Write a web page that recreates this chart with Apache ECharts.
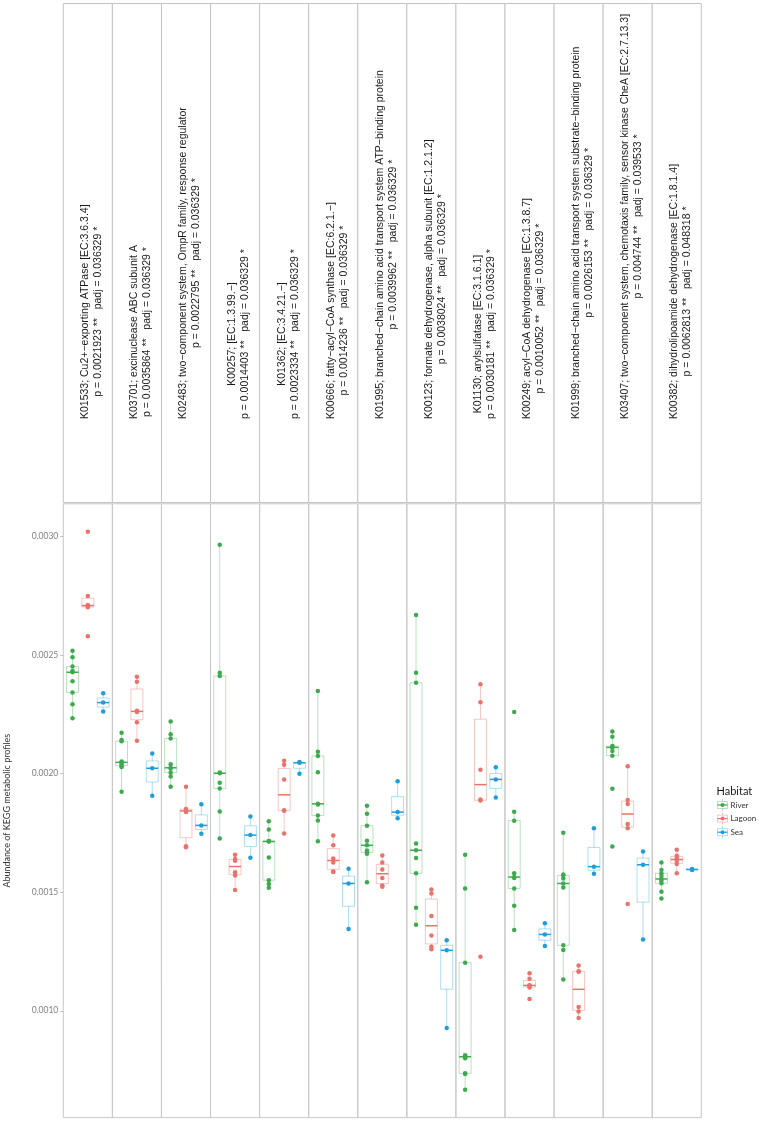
<!DOCTYPE html>
<html><head><meta charset="utf-8">
<script src="https://cdn.jsdelivr.net/npm/echarts@6/dist/echarts.min.js"></script>
<style>html,body{margin:0;padding:0;background:#fff}#c{width:759px;height:1125px}</style>
</head><body><div id="c"></div>
<script>
// ---------------- data ----------------
const keggIds = ['K01533','K03701','K02483','K00257','K01362','K00666','K01995','K00123','K01130','K00249','K01999','K03407','K00382'];
const keggNames = [
  'Cu2+\u2212exporting ATPase [EC:3.6.3.4]',
  'excinuclease ABC subunit A',
  'two\u2212component system, OmpR family, response regulator',
  '[EC:1.3.99.\u2212]',
  '[EC:3.4.21.\u2212]',
  'fatty\u2212acyl\u2212CoA synthase [EC:6.2.1.\u2212]',
  'branched\u2212chain amino acid transport system ATP\u2212binding protein',
  'formate dehydrogenase, alpha subunit [EC:1.2.1.2]',
  'arylsulfatase [EC:3.1.6.1]',
  'acyl\u2212CoA dehydrogenase [EC:1.3.8.7]',
  'branched\u2212chain amino acid transport system substrate\u2212binding protein',
  'two\u2212component system, chemotaxis family, sensor kinase CheA [EC:2.7.13.3]',
  'dihydrolipoamide dehydrogenase [EC:1.8.1.4]'
];
const pValues = ['0.0021923','0.0035864','0.0022795','0.0014403','0.0023334','0.0014236','0.0039962','0.0038024','0.0030181','0.0010052','0.0026153','0.004744','0.0062813'];
const padjValues = ['0.036329','0.036329','0.036329','0.036329','0.036329','0.036329','0.036329','0.036329','0.036329','0.036329','0.036329','0.039533','0.048318'];
const habitats = ['River','Lagoon','Sea'];
const riverValues = [
  [0.002519,0.002491,0.002452,0.002433,0.002428,0.002390,0.002343,0.002293,0.002234],
  [0.002173,0.002142,0.002137,0.002052,0.002048,0.002041,0.002034,0.002028,0.001924],
  [0.002220,0.002166,0.002149,0.002040,0.002025,0.002021,0.002004,0.001988,0.001945],
  [0.002966,0.002426,0.002412,0.002005,0.002002,0.001962,0.001938,0.001841,0.001727],
  [0.001800,0.001765,0.001716,0.001715,0.001714,0.001647,0.001551,0.001535,0.001519],
  [0.002349,0.002093,0.002075,0.002006,0.001873,0.001870,0.001824,0.001803,0.001715],
  [0.001865,0.001831,0.001781,0.001717,0.001698,0.001676,0.001668,0.001662,0.001542],
  [0.002670,0.002426,0.002384,0.001706,0.001677,0.001644,0.001580,0.001435,0.001363],
  [0.001658,0.001516,0.001203,0.000812,0.000806,0.000800,0.000736,0.000733,0.000667],
  [0.002260,0.001840,0.001802,0.001580,0.001564,0.001560,0.001516,0.001443,0.001341],
  [0.001751,0.001575,0.001571,0.001558,0.001537,0.001520,0.001276,0.001256,0.001132],
  [0.002178,0.002156,0.002117,0.002113,0.002111,0.002096,0.002076,0.001937,0.001693],
  [0.001626,0.001594,0.001580,0.001568,0.001556,0.001548,0.001538,0.001502,0.001474]
];
const lagoonValues = [
  [0.003021,0.002750,0.002712,0.002707,0.002702,0.002580],
  [0.002409,0.002388,0.002266,0.002260,0.002217,0.002139],
  [0.001945,0.001851,0.001848,0.001838,0.001694,0.001690],
  [0.001658,0.001640,0.001633,0.001584,0.001571,0.001509],
  [0.002055,0.002038,0.001976,0.001846,0.001844,0.001748],
  [0.001739,0.001698,0.001642,0.001626,0.001587,0.001585],
  [0.001655,0.001625,0.001596,0.001560,0.001528,0.001523],
  [0.001512,0.001495,0.001400,0.001317,0.001270,0.001259],
  [0.002377,0.002301,0.002017,0.001891,0.001887,0.001228],
  [0.001158,0.001135,0.001108,0.001106,0.001098,0.001050],
  [0.001191,0.001167,0.001165,0.001016,0.000997,0.000970],
  [0.002032,0.001889,0.001872,0.001788,0.001770,0.001450],
  [0.001679,0.001654,0.001643,0.001633,0.001619,0.001580]
];
const seaValues = [
  [0.002339,0.002300,0.002262],
  [0.002085,0.002023,0.001907],
  [0.001871,0.001782,0.001747],
  [0.001820,0.001741,0.001646],
  [0.002049,0.002046,0.002000],
  [0.001599,0.001537,0.001345],
  [0.001968,0.001838,0.001812],
  [0.001298,0.001255,0.000927],
  [0.002027,0.001976,0.001900],
  [0.001369,0.001322,0.001273],
  [0.001770,0.001608,0.001578],
  [0.001672,0.001616,0.001301],
  [0.001598,0.001596,0.001594]
];
const yTickValues = [0.0010,0.0015,0.0020,0.0025,0.0030];
const yMinorValues = [0.00075,0.00125,0.00175,0.00225,0.00275];
const yTitle = 'Abundance of KEGG metabolic profiles';
const legendTitle = 'Habitat';

// ---------------- style / layout ----------------
const COLORS = ['#3DAA4D','#E8736B','#1F9DD8'];
const LIGHT = ['rgba(61,170,77,0.35)','rgba(232,115,107,0.4)','rgba(31,157,216,0.35)'];
const PANEL_L = 63.3, PANEL_R = 701.3, PANEL_T = 503.8, PANEL_B = 1117.6;
const STRIP_T = 3.5, STRIP_B = 502.5, STRIP_TEXT_BOTTOM = 419;
const BOX_W = 0.78;
const STRIP_FONT = '10.5px "Liberation Sans", Arial, sans-serif';
const AXIS_FONT = 'Lato';

const groups = [riverValues, lagoonValues, seaValues];
const nP = keggIds.length;
const pw = (PANEL_R - PANEL_L) / nP;

const allVals = [].concat(...riverValues, ...lagoonValues, ...seaValues);
const dMin = Math.min(...allVals), dMax = Math.max(...allVals);
const yMin = dMin - (dMax - dMin) * 0.05, yMax = dMax + (dMax - dMin) * 0.05;

function quant(s, p) { const h = (s.length - 1) * p, lo = Math.floor(h), hi = Math.ceil(h); return s[lo] + (h - lo) * (s[hi] - s[lo]); }
function boxStats(vals) {
  const s = vals.slice().sort((a, b) => a - b);
  const q1 = quant(s, 0.25), md = quant(s, 0.5), q3 = quant(s, 0.75), iqr = q3 - q1;
  const inside = s.filter(v => v >= q1 - 1.5 * iqr - 1e-12 && v <= q3 + 1.5 * iqr + 1e-12);
  return [Math.min(...inside), q1, md, q3, Math.max(...inside)];
}

function renderBox(params, api) {
  const x = api.value(0), k = api.value(6);
  const lw = api.coord([x, api.value(1)]);
  const a = api.coord([x - BOX_W / 2, api.value(2)]);
  const md = api.coord([x, api.value(3)]);
  const b = api.coord([x + BOX_W / 2, api.value(4)]);
  const uw = api.coord([x, api.value(5)]);
  const left = a[0], right = b[0], top = b[1], bottom = a[1];
  return { type: 'group', children: [
    { type: 'line', shape: { x1: md[0], y1: top, x2: md[0], y2: uw[1] }, style: { stroke: LIGHT[k], lineWidth: 1 } },
    { type: 'line', shape: { x1: md[0], y1: bottom, x2: md[0], y2: lw[1] }, style: { stroke: LIGHT[k], lineWidth: 1 } },
    { type: 'rect', shape: { x: left, y: top, width: right - left, height: bottom - top }, style: { fill: 'transparent', stroke: LIGHT[k], lineWidth: 1 } },
    { type: 'line', shape: { x1: left, y1: md[1], x2: right, y2: md[1] }, style: { stroke: COLORS[k], lineWidth: 1.5 } }
  ]};
}

const grids = [], xAxes = [], yAxes = [], series = [];
for (let i = 0; i < nP; i++) {
  grids.push({ left: PANEL_L + i * pw, top: PANEL_T, width: pw, height: PANEL_B - PANEL_T, show: true, borderColor: '#C8C8C8', borderWidth: 1, backgroundColor: 'transparent' });
  xAxes.push({ gridIndex: i, type: 'value', min: 0.4, max: 3.6, show: false });
  yAxes.push({ gridIndex: i, type: 'value', min: yMin, max: yMax, show: i === 0,
    axisLine: { show: false }, splitLine: { show: false },
    axisTick: { show: i === 0, length: 3, lineStyle: { color: '#BDBDBD' }, customValues: yTickValues },
    axisLabel: { show: i === 0, customValues: yTickValues, formatter: v => v.toFixed(4), color: '#808080', fontSize: 8.5, fontFamily: AXIS_FONT, margin: 5 } });
  series.push({ type: 'scatter', xAxisIndex: i, yAxisIndex: i, data: [], silent: true, z: 0,
    markLine: { silent: true, symbol: ['none', 'none'], animation: false, label: { show: false },
      lineStyle: { type: 'solid', width: 1, color: '#F7F7F7' },
      data: yMinorValues.map(v => ({ yAxis: v })).concat(yTickValues.map(v => ({ yAxis: v, lineStyle: { color: '#EFEFEF', type: 'solid', width: 1 } }))) } });
  const boxData = groups.map((g, k) => [k + 1].concat(boxStats(g[i])).concat([k]));
  series.push({ type: 'custom', xAxisIndex: i, yAxisIndex: i, data: boxData, renderItem: renderBox, silent: true, z: 2, encode: { x: 0, y: [1, 5] } });
  groups.forEach((g, k) => series.push({ type: 'scatter', name: habitats[k], xAxisIndex: i, yAxisIndex: i,
    data: g[i].map(v => [k + 1, v]), symbolSize: 4.5, itemStyle: { color: COLORS[k], opacity: 1 }, silent: true, z: 3 }));
}

// strips
const mctx = document.createElement('canvas').getContext('2d');
mctx.font = STRIP_FONT;
const graphics = [];
for (let i = 0; i < nP; i++) {
  const left = PANEL_L + i * pw, cx = left + pw / 2;
  graphics.push({ type: 'rect', shape: { x: left, y: STRIP_T, width: pw, height: STRIP_B - STRIP_T }, style: { fill: '#fff', stroke: '#C4C4C4', lineWidth: 1 }, silent: true });
  const l1 = keggIds[i] + '; ' + keggNames[i];
  const l2 = 'p = ' + pValues[i] + ' **   padj = ' + padjValues[i] + ' *';
  const w = Math.max(mctx.measureText(l1).width, mctx.measureText(l2).width);
  const cy = STRIP_TEXT_BOTTOM - w / 2;
  [[l1, cx - 2.5], [l2, cx + 10.5]].forEach(([t, x]) => graphics.push({ type: 'text', x: x, y: cy, rotation: Math.PI / 2, silent: true,
    style: { text: t, font: STRIP_FONT, fill: '#1A1A1A', align: 'center', verticalAlign: 'middle' } }));
}
// y title
graphics.push({ type: 'text', x: 7, y: (PANEL_T + PANEL_B) / 2, rotation: Math.PI / 2, silent: true,
  style: { text: yTitle, font: '9px ' + AXIS_FONT, fill: '#333', align: 'center', verticalAlign: 'middle' } });
// legend
graphics.push({ type: 'text', x: 716.5, y: 791, silent: true, style: { text: legendTitle, font: '11px ' + AXIS_FONT, fill: '#1A1A1A', align: 'left', verticalAlign: 'middle' } });
habitats.forEach((h, k) => {
  const cy = 805 + k * 13.6, kx = 717.5, kw = 10;
  graphics.push({ type: 'rect', shape: { x: kx, y: cy - 3.5, width: kw, height: 7 }, style: { fill: '#fff', stroke: LIGHT[k], lineWidth: 1 }, silent: true });
  graphics.push({ type: 'line', shape: { x1: kx + kw / 2, y1: cy - 6, x2: kx + kw / 2, y2: cy - 3.5 }, style: { stroke: LIGHT[k], lineWidth: 1 }, silent: true });
  graphics.push({ type: 'line', shape: { x1: kx + kw / 2, y1: cy + 3.5, x2: kx + kw / 2, y2: cy + 6 }, style: { stroke: LIGHT[k], lineWidth: 1 }, silent: true });
  graphics.push({ type: 'line', shape: { x1: kx, y1: cy, x2: kx + kw, y2: cy }, style: { stroke: COLORS[k], lineWidth: 1.2 }, silent: true });
  graphics.push({ type: 'circle', shape: { cx: kx + kw / 2, cy: cy, r: 2 }, style: { fill: COLORS[k] }, silent: true });
  graphics.push({ type: 'text', x: 730.5, y: cy, silent: true, style: { text: h, font: '8px ' + AXIS_FONT, fill: '#333', align: 'left', verticalAlign: 'middle' } });
});

const chart = echarts.init(document.getElementById('c'), null, { renderer: 'canvas', width: 759, height: 1125 });
chart.setOption({ animation: false, backgroundColor: '#fff', grid: grids, xAxis: xAxes, yAxis: yAxes, series: series, graphic: graphics });
</script></body></html>
